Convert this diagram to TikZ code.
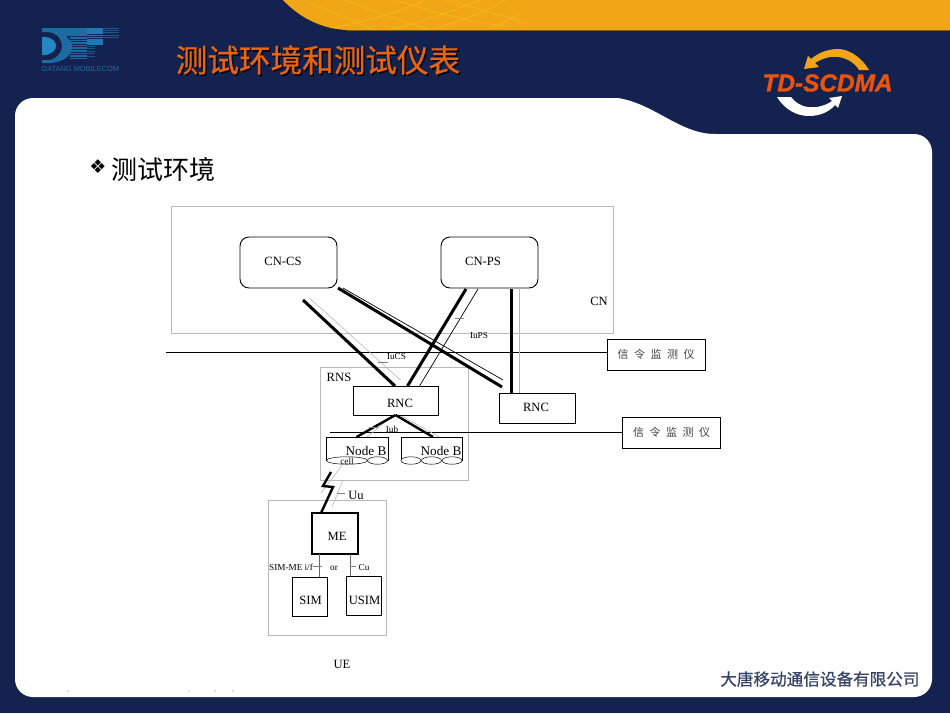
\documentclass[tikz,border=0pt]{standalone}
\usepackage{fontspec}
\usepackage{xcolor}
\setmainfont{Liberation Serif}
\newfontfamily\cjk{Noto Sans CJK SC}
\newfontfamily\cjkwide[LetterSpace=50]{Noto Sans CJK SC}
\newfontfamily\cjkbold[FakeBold=0.6]{Noto Sans CJK SC}
\newfontfamily\logofont[FakeBold=1.2]{Liberation Sans}
\newfontfamily\namefont{Liberation Sans}
\newfontfamily\dingfont{DejaVu Sans}
\usetikzlibrary{positioning,calc,arrows,shapes.geometric}
\definecolor{navy}{HTML}{14224F}
\definecolor{amber}{HTML}{F0A616}
\definecolor{rim}{HTML}{B9B9B9}
\definecolor{logoblue}{HTML}{1B6CA3}
\definecolor{logolight}{HTML}{2387C4}
\definecolor{tdred}{HTML}{E8530E}
\definecolor{titleorange}{HTML}{E8640F}
\newcommand{\fsz}[1]{\fontsize{#1}{#1}\selectfont}
\def\slidebg{%
  \fill[navy] (0,0) rectangle (950,713);
  \fill[amber] (283,0) .. controls (298,16) and (320,29) .. (347,30) -- (950,30) -- (950,0) -- cycle;
  \draw[black!45!amber, line width=.8pt] (347,30.4) -- (950,30.4);
  \begin{scope}[draw=yellow!45!amber, line width=.6pt, opacity=.7]
    \draw (310,4) .. controls (340,14) and (360,24) .. (375,30);
    \draw (345,0) .. controls (375,12) and (405,22) .. (430,30);
    \draw (395,0) .. controls (425,10) and (470,22) .. (505,26);
    \draw (445,0) .. controls (470,6) and (505,16) .. (527,24);
    \draw (330,28) .. controls (365,22) and (400,12) .. (425,0);
    \draw (390,30) .. controls (420,22) and (450,12) .. (480,0);
    \draw (435,28) .. controls (465,20) and (490,10) .. (505,0);
    \draw (490,28) .. controls (505,22) and (515,16) .. (522,12);
  \end{scope}
  \fill[white] (33,98) -- (618,98) .. controls (655,104) and (680,134) .. (715,134)
    -- (914,134) .. controls (924,134) and (932,142) .. (932,152) -- (932,679)
    .. controls (932,689) and (924,697) .. (914,697) -- (33,697)
    .. controls (23,697) and (15,689) .. (15,679) -- (15,116)
    .. controls (15,106) and (23,98) .. (33,98) -- cycle;
  \foreach \specx in {68,189,215,233}
    \fill[gray] (\specx,691) circle (.6);
}
\def\dtlogo{%
  \fill[logoblue] (42,28) -- (87,28) -- (87,36) -- (66,36) .. controls (70,40) and (72,43) .. (72,46)
    .. controls (72,54) and (66,62) .. (50,63) -- (42,63) -- (42,60) -- (50,60)
    .. controls (58,58) and (62,52) .. (62,46) .. controls (62,40) and (58,33) .. (48,32) -- (42,32) -- cycle;
  \fill[logolight] (42,37) -- (46,37) .. controls (53,38) and (56,42) .. (56,46)
    .. controls (56,50) and (53,53) .. (46,55) -- (42,55) -- cycle;
  \foreach \stripey in {37,39.6,...,60}
    \fill[logoblue] (70,\stripey) rectangle (87,\stripey+1.6);
  \foreach \stripey in {28,30.2,...,44}
    \fill[logolight!85!navy] (87,\stripey) rectangle (103,\stripey+1.6);
  \foreach \stripey in {46,48.4,...,56}
    \fill[logoblue!70!navy] (87,\stripey) rectangle (95,\stripey+.9);
  \foreach \stripey in {28,30.2,...,37}
    \fill[logoblue!75!navy] (103,\stripey) rectangle (119,\stripey+.8);
}
\def\tdlogo{%
  \fill[amber] (869,70) .. controls (860,55) and (847,49) .. (838,49)
    .. controls (826,49) and (817,54) .. (811,59) -- (808,56) -- (804,69) -- (819,67) -- (815,63)
    .. controls (823,58) and (831,56) .. (838,57) .. controls (847,58) and (855,63) .. (859,70) -- cycle;
  \fill[white] (777,97) .. controls (785,110) and (797,116) .. (809,116)
    .. controls (822,116) and (831,110) .. (835,105) -- (838,108) -- (842,96) -- (829,98) -- (832,101)
    .. controls (825,106) and (816,108) .. (808,107) .. controls (800,106) and (795,102) .. (791,97) -- cycle;
}
\tikzset{
  plain/.style={inner sep=0pt, outer sep=0pt},
  tiny/.style={plain, font=\fsz{9.2}},
  mid/.style={plain, font=\fsz{12.6}},
  frame/.style={draw=rim, line width=.7pt, plain},
  box/.style={draw, line width=.9pt, plain},
  monitor/.style={box, minimum width=98pt, minimum height=31pt, font=\cjkwide\fsz{11}, text=black!75},
  thickline/.style={line width=3pt},
  thinline/.style={line width=.7pt},
  greyline/.style={draw=rim, line width=.6pt},
  cellring/.style={draw, fill=white, line width=.5pt, ellipse, plain},
}

\begin{document}
\begin{tikzpicture}[x=1pt, y=-1pt]
  \useasboundingbox (0,0) rectangle (950,713);
  \slidebg;
  \dtlogo;
  \tdlogo;
  \node[plain, font=\namefont\fsz{7.4}, text=logoblue] (dtname) at (80.5,69) {DATANG MOBILECOM};
  \node[plain, font=\logofont\bfseries\itshape\fsz{24.4}, text=tdred] (tdname) at (827.5,83) {TD-SCDMA};
  \node[plain, font=\cjkbold\fsz{31.6}, text=black] (titleshade) at (319.5,61.5) {测试环境和测试仪表};
  \node[plain, font=\cjkbold\fsz{31.6}, text=titleorange] (title) at (318,60) {测试环境和测试仪表};
  \node[plain, font=\dingfont\fsz{19}] (bullet) at (98,167) {❖};
  \node[plain, font=\cjk\fsz{26}, anchor=west] (heading) at (111,170) {测试环境};
  \node[plain, font=\cjkbold\fsz{16.6}, text=navy!85, anchor=east] (footer) at (919.5,679) {大唐移动通信设备有限公司};

  % frames
  \node[frame, minimum width=442pt, minimum height=127pt] (cn) at (392,269.5) {};
  \node[frame, minimum width=148pt, minimum height=113pt] (rns) at (394,423.5) {};
  \node[frame, minimum width=118pt, minimum height=135pt] (ue) at (327,567.5) {};

  % tap lines
  \node[monitor] (mona) at (656,354.5) {信令监测仪};
  \node[monitor] (monb) at (671.5,432.5) {信令监测仪};
  \coordinate (tapa) at (166,352);
  \coordinate (tapb) at (330,432);
  \draw[thinline, line width=1pt] (tapa) -- (mona.west |- tapa);
  \draw[thinline, line width=1pt] (tapb) -- (monb.west |- tapb);

  % boxes
  \node[box, rounded corners=9pt, minimum width=97pt, minimum height=51pt] (cncs) at (288.5,262.5) {};
  \node[box, rounded corners=9pt, minimum width=97pt, minimum height=51pt] (cnps) at (489.5,262.5) {};
  \node[box, minimum width=85pt, minimum height=29pt] (rnca) at (395.5,400.5) {};
  \node[box, minimum width=76pt, minimum height=30pt] (rncb) at (537,408) {};
  \node[box, line width=1.2pt, minimum width=46pt, minimum height=41pt] (me) at (335,533.5) {};
  \node[box, minimum width=35pt, minimum height=39pt] (sim) at (309.5,596.5) {};
  \node[box, minimum width=35pt, minimum height=39pt] (usim) at (363.5,595.5) {};

  % links to the core
  \draw[greyline] ([xshift=21pt,yshift=-10pt]cncs.south) -- ([xshift=5pt,yshift=6pt]rnca.north);
  \draw[thickline] ([xshift=14.5pt,yshift=-12pt]cncs.south) -- ([xshift=-.5pt]rnca.north);
  \draw[thickline] ([xshift=1pt]cncs.south east) -- ([xshift=-35pt,yshift=6pt]rncb.north);
  \draw[thinline] ([xshift=6pt]cncs.south east) -- ([xshift=-34pt,yshift=13pt]rncb.north);
  \draw[thickline] ([xshift=25pt,yshift=-1pt]cnps.south west) -- ([xshift=12pt]rnca.north);
  \draw[thinline] ([xshift=37pt,yshift=-1pt]cnps.south west) -- ([xshift=24pt]rnca.north);
  \draw[thickline] ([xshift=21.5pt,yshift=-1pt]cnps.south) -- ([xshift=-26pt]rncb.north);
  \draw[greyline] ([xshift=29.5pt,yshift=-1pt]cnps.south) -- ([xshift=-18pt]rncb.north);

  % node B groups
  \draw[line width=.9pt] (326,461) -- (326,437) coordinate (nbla) -- (388,437) coordinate (nblb) -- (388,461);
  \draw[line width=.9pt] (401,461) -- (401,437) coordinate (nbra) -- (462,437) coordinate (nbrb) -- (462,461);
  \node[cellring, minimum width=41pt, minimum height=7.5pt] (cella) at (347,460.5) {};
  \node[cellring, minimum width=20pt, minimum height=7.5pt] (cellb) at (377.5,460.5) {};
  \node[cellring, minimum width=20pt, minimum height=7.5pt] (cellc) at (411,460.5) {};
  \node[cellring, minimum width=20pt, minimum height=7.5pt] (celld) at (431.5,460.5) {};
  \node[cellring, minimum width=20pt, minimum height=7.5pt] (celle) at (452,460.5) {};
  \draw[greyline] ([xshift=-3pt,yshift=-1pt]rnca.south) -- ([xshift=10pt]$(nbla)!.5!(nblb)$);
  \draw[greyline] ([xshift=6pt,yshift=-1pt]rnca.south) -- ([xshift=8pt]$(nbra)!.5!(nbrb)$);
  \draw[thickline, line width=2.4pt] (rnca.south) -- ([xshift=-.5pt]$(nbla)!.5!(nblb)$);
  \draw[thickline, line width=2.4pt] (rnca.south) -- ([xshift=1.5pt]$(nbra)!.5!(nbrb)$);

  % radio link
  \coordinate (uua) at (331,472);
  \coordinate (uub) at (323,486);
  \coordinate (uuc) at (333,487);
  \draw[greyline] (cella.south) ++(-5,1) -- ([xshift=-14pt,yshift=20pt]me.north);
  \draw[greyline] ([xshift=8pt,yshift=33pt]me.north) -- ([xshift=-3pt,yshift=6pt]me.north);
  \draw[thickline, line width=2.4pt, line join=miter] (uua) -- (uub) -- (uuc) -- ([xshift=-14pt]me.north);

  % SIM links
  \draw[thinline, draw=black!60] ([xshift=-16pt]me.south) -- ([xshift=9.5pt]sim.north);
  \draw[thinline, draw=black!60] ([xshift=15pt]me.south) -- ([xshift=-13.5pt]usim.north);

  % ticks
  \coordinate (tiua) at (378,362);  \coordinate (tiub) at (388,362);
  \coordinate (tipa) at (455,318);  \coordinate (tipb) at (464,318);
  \coordinate (tbua) at (369,427);  \coordinate (tbub) at (378,427);
  \coordinate (tuua) at (337,493);  \coordinate (tuub) at (345,493);
  \coordinate (tsma) at (313,566);  \coordinate (tsmb) at (322,566);
  \coordinate (tcua) at (350,566);  \coordinate (tcub) at (356,566);
  \foreach \tka/\tkb in {tiua/tiub, tipa/tipb, tbua/tbub, tuua/tuub, tsma/tsmb, tcua/tcub}
    \draw[draw=black!50, line width=.5pt] (\tka) -- (\tkb);

  % labels
  \node[mid] (lcncs) at (283,261) {CN-CS};
  \node[mid] (lcnps) at (483,261) {CN-PS};
  \node[mid] (lcn) at (599,301) {CN};
  \node[mid] (lrns) at (339,377) {RNS};
  \node[mid] (lrnca) at (400,403) {RNC};
  \node[mid] (lrncb) at (536,407) {RNC};
  \node[mid, font=\fsz{13.2}] (lnba) at (366,450.5) {Node B};
  \node[mid, font=\fsz{13.2}] (lnbb) at (441,450.5) {Node B};
  \node[mid] (luu) at (356,495) {Uu};
  \node[mid] (lme) at (337,536) {ME};
  \node[mid] (lsim) at (310.5,600) {SIM};
  \node[mid] (lusim) at (364.5,600) {USIM};
  \node[mid] (lue) at (342,664) {UE};
  \node[tiny] (liucs) at (396.5,356) {IuCS};
  \node[tiny] (liups) at (479,335.5) {IuPS};
  \node[tiny] (liub) at (392,429.5) {Iub};
  \node[tiny] (lcell) at (347,461.5) {cell};
  \node[tiny] (lsimme) at (291,567.5) {SIM-ME i/f};
  \node[tiny] (lor) at (334,568) {or};
  \node[tiny] (lcu) at (364,567.5) {Cu};
\end{tikzpicture}
\end{document}
